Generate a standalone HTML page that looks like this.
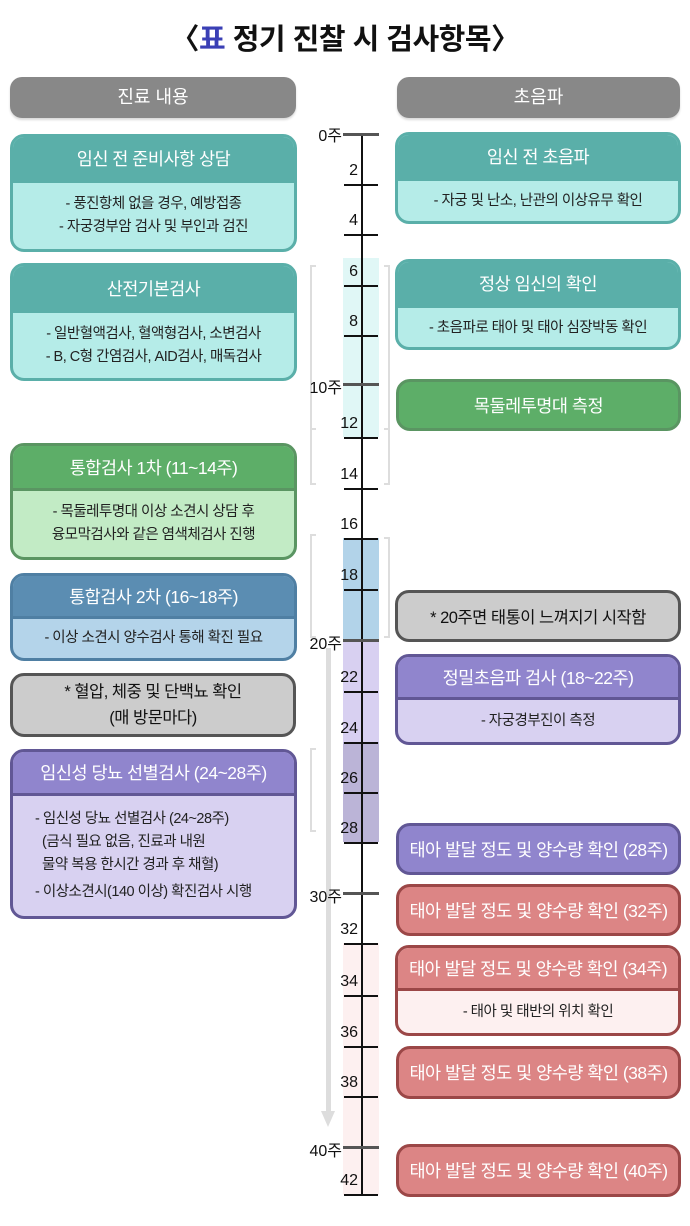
<!DOCTYPE html>
<html><head><meta charset="utf-8"><style>
*{margin:0;padding:0;box-sizing:border-box}
body{width:690px;height:1226px;background:#fff;position:relative;overflow:hidden;font-family:"Liberation Sans","Noto Sans CJK KR",sans-serif;}
.a{position:absolute}
.title{left:0;width:690px;top:16px;text-align:center;font-size:29px;font-weight:bold;color:#111;letter-spacing:-0.5px}
.hd{background:#888;color:#fff;border-radius:12px;height:41px;line-height:41px;text-align:center;font-size:18px;box-shadow:0 2px 2px rgba(0,0,0,0.15)}
.box{position:absolute;border:3px solid;border-radius:14px;overflow:hidden;text-align:center;letter-spacing:-0.5px}
.h{color:#fff;font-size:17.5px;border-bottom:3px solid;display:flex;align-items:center;justify-content:center}
.b{font-size:14.5px;color:#222;line-height:23px;display:flex;flex-direction:column;justify-content:center;height:100%}
.teal{border-color:#5aafa9;background:#b5ece8}.teal .h{background:#5aafa9;border-color:#5aafa9}
.green{border-color:#5a9562;background:#c2ebc5}.green .h{background:#5dae68;border-color:#5a9562}
.blue{border-color:#4f7fa3;background:#b4d4ea}.blue .h{background:#5b8db2;border-color:#4f7fa3}
.purp{border-color:#615795;background:#d8d1f1}.purp .h{background:#9085cd;border-color:#615795}
.pink{border-color:#9b4747;background:#fdf0f0}.pink .h{background:#dc8585;border-color:#9b4747}
.gray{border-color:#555;background:#ccc;color:#111;font-size:16.5px}
.single{display:flex;align-items:center;justify-content:center;color:#fff;font-size:17.5px}
.tick{position:absolute;left:344px;width:34px;height:1.5px;background:#111}
.maj{position:absolute;left:343px;width:36px;height:3px;background:#555}
.lab{position:absolute;font-size:16px;color:#111;text-align:right;width:40px}
.br{position:absolute;border:2px solid #ddd}
</style></head><body>
<div class="a title">〈<span style="color:#3a3fb5">표</span> 정기 진찰 시 검사항목〉</div>
<div class="a hd" style="left:10px;top:77px;width:286px">진료 내용</div>
<div class="a hd" style="left:397px;top:77px;width:283px">초음파</div>

<div class="a" style="left:343px;top:258px;width:36px;height:179px;background:#e0f7f6"></div>
<div class="a" style="left:343px;top:538px;width:36px;height:102px;background:#b2d3e9"></div>
<div class="a" style="left:343px;top:640px;width:36px;height:102px;background:#d8d0f1"></div>
<div class="a" style="left:343px;top:742px;width:36px;height:100px;background:#bbb4d7"></div>
<div class="a" style="left:343px;top:943px;width:36px;height:252px;background:#fdf0f0"></div>

<div class="br" style="left:310px;top:265px;width:6px;height:165px;border-right:none"></div>
<div class="br" style="left:310px;top:430px;width:6px;height:55px;border-right:none;border-top:none"></div>
<div class="br" style="left:384px;top:265px;width:6px;height:165px;border-left:none"></div>
<div class="br" style="left:384px;top:430px;width:6px;height:55px;border-left:none;border-top:none"></div>
<div class="br" style="left:310px;top:534px;width:6px;height:104px;border-right:none"></div>
<div class="br" style="left:384px;top:537px;width:6px;height:101px;border-left:none"></div>
<div class="br" style="left:310px;top:748px;width:6px;height:84px;border-right:none"></div>

<div class="a" style="left:326px;top:648px;width:5px;height:465px;background:#ddd"></div>
<div class="a" style="left:321px;top:1111px;width:0;height:0;border-left:7.5px solid transparent;border-right:7.5px solid transparent;border-top:16px solid #ddd"></div>

<div class="a" style="left:361px;top:134px;width:1.5px;height:1061px;background:#111"></div>
<div class="maj" style="top:133px"></div><div class="lab" style="left:302px;top:122px">0주</div>
<div class="tick" style="top:184px"></div><div class="lab" style="left:318px;top:162px">2</div>
<div class="tick" style="top:234px"></div><div class="lab" style="left:318px;top:212px">4</div>
<div class="tick" style="top:285px"></div><div class="lab" style="left:318px;top:263px">6</div>
<div class="tick" style="top:335px"></div><div class="lab" style="left:318px;top:313px">8</div>
<div class="maj" style="top:383px"></div><div class="lab" style="left:302px;top:374px">10주</div>
<div class="tick" style="top:437px"></div><div class="lab" style="left:318px;top:415px">12</div>
<div class="tick" style="top:488px"></div><div class="lab" style="left:318px;top:466px">14</div>
<div class="tick" style="top:538px"></div><div class="lab" style="left:318px;top:516px">16</div>
<div class="tick" style="top:589px"></div><div class="lab" style="left:318px;top:567px">18</div>
<div class="maj" style="top:639px"></div><div class="lab" style="left:302px;top:630px">20주</div>
<div class="tick" style="top:691px"></div><div class="lab" style="left:318px;top:669px">22</div>
<div class="tick" style="top:742px"></div><div class="lab" style="left:318px;top:720px">24</div>
<div class="tick" style="top:792px"></div><div class="lab" style="left:318px;top:770px">26</div>
<div class="tick" style="top:842px"></div><div class="lab" style="left:318px;top:820px">28</div>
<div class="maj" style="top:892px"></div><div class="lab" style="left:302px;top:883px">30주</div>
<div class="tick" style="top:943px"></div><div class="lab" style="left:318px;top:921px">32</div>
<div class="tick" style="top:995px"></div><div class="lab" style="left:318px;top:973px">34</div>
<div class="tick" style="top:1046px"></div><div class="lab" style="left:318px;top:1024px">36</div>
<div class="tick" style="top:1096px"></div><div class="lab" style="left:318px;top:1074px">38</div>
<div class="maj" style="top:1146px"></div><div class="lab" style="left:302px;top:1137px">40주</div>
<div class="tick" style="top:1194px"></div><div class="lab" style="left:318px;top:1172px">42</div>

<div class="box teal" style="left:10px;top:134px;width:287px;height:118px"><div class="h" style="height:46px">임신 전 준비사항 상담</div><div class="b" style="height:66px">- 풍진항체 없을 경우, 예방접종<br>- 자궁경부암 검사 및 부인과 검진</div></div>
<div class="box teal" style="left:10px;top:263px;width:287px;height:118px"><div class="h" style="height:47px">산전기본검사</div><div class="b" style="height:65px">- 일반혈액검사, 혈액형검사, 소변검사<br>- B, C형 간염검사, AID검사, 매독검사</div></div>
<div class="box green" style="left:10px;top:443px;width:287px;height:117px"><div class="h" style="height:45px">통합검사 1차 (11~14주)</div><div class="b" style="height:66px">- 목둘레투명대 이상 소견시 상담 후<br>융모막검사와 같은 염색체검사 진행</div></div>
<div class="box blue" style="left:10px;top:573px;width:287px;height:88px"><div class="h" style="height:43px">통합검사 2차 (16~18주)</div><div class="b" style="height:39px">- 이상 소견시 양수검사 통해 확진 필요</div></div>
<div class="box gray" style="left:10px;top:673px;width:286px;height:64px;display:flex;align-items:center;justify-content:center;line-height:26px">* 혈압, 체중 및 단백뇨 확인<br>(매 방문마다)</div>
<div class="box purp" style="left:10px;top:749px;width:287px;height:170px"><div class="h" style="height:44px">임신성 당뇨 선별검사 (24~28주)</div><div class="b" style="height:120px;text-align:left;padding-left:22px;line-height:23px">- 임신성 당뇨 선별검사 (24~28주)<br>&nbsp;&nbsp;(금식 필요 없음, 진료과 내원<br>&nbsp;&nbsp;물약 복용 한시간 경과 후 채혈)<br><span style="margin-top:4px">- 이상소견시(140 이상) 확진검사 시행</span></div></div>

<div class="box teal" style="left:395px;top:132px;width:286px;height:92px"><div class="h" style="height:46px">임신 전 초음파</div><div class="b" style="height:40px">- 자궁 및 난소, 난관의 이상유무 확인</div></div>
<div class="box teal" style="left:395px;top:259px;width:286px;height:91px"><div class="h" style="height:46px">정상 임신의 확인</div><div class="b" style="height:40px">- 초음파로 태아 및 태아 심장박동 확인</div></div>
<div class="box green single" style="left:396px;top:379px;width:285px;height:52px;background:#5dae68">목둘레투명대 측정</div>
<div class="box gray" style="left:395px;top:590px;width:286px;height:52px;display:flex;align-items:center;justify-content:center">* 20주면 태통이 느껴지기 시작함</div>
<div class="box purp" style="left:395px;top:654px;width:286px;height:91px"><div class="h" style="height:43px">정밀초음파 검사 (18~22주)</div><div class="b" style="height:42px">- 자궁경부진이 측정</div></div>
<div class="box purp single" style="left:396px;top:823px;width:285px;height:52px;background:#9085cd">태아 발달 정도 및 양수량 확인 (28주)</div>
<div class="box pink single" style="left:396px;top:884px;width:285px;height:52px;background:#dc8585">태아 발달 정도 및 양수량 확인 (32주)</div>
<div class="box pink" style="left:395px;top:945px;width:286px;height:91px"><div class="h" style="height:43px">태아 발달 정도 및 양수량 확인 (34주)</div><div class="b" style="height:42px">- 태아 및 태반의 위치 확인</div></div>
<div class="box pink single" style="left:396px;top:1046px;width:285px;height:53px;background:#dc8585">태아 발달 정도 및 양수량 확인 (38주)</div>
<div class="box pink single" style="left:396px;top:1144px;width:285px;height:53px;background:#dc8585">태아 발달 정도 및 양수량 확인 (40주)</div>
</body></html>
